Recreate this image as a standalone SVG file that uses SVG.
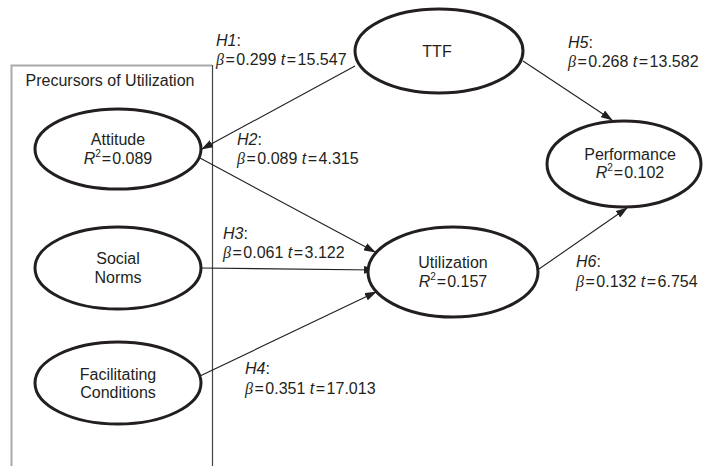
<svg xmlns="http://www.w3.org/2000/svg" width="704" height="466" viewBox="0 0 704 466">
<style>
  text { font-family: "Liberation Sans", Arial, sans-serif; font-size: 16px; fill: #231f20; }
  .c { text-anchor: middle; }
  .i { font-style: italic; }
  .b { font-family: "Liberation Serif", "Times New Roman", serif; font-style: italic; }
  .sup { font-size: 10px; }
  .node ellipse { fill: #fff; stroke: #231f20; stroke-width: 3; }
  .edge { stroke: #231f20; stroke-width: 1.1; fill: none; marker-end: url(#ah); }
</style>
<defs>
  <marker id="ah" markerUnits="userSpaceOnUse" markerWidth="12" markerHeight="8" refX="11" refY="4" orient="auto">
    <path d="M0,0 L12,4 L0,8 z" fill="#231f20"/>
  </marker>
</defs>
<rect width="704" height="466" fill="#fff"/>

<g id="precursors-box">
  <path d="M11.5,466 V65.5 H212" fill="none" stroke="#aaa" stroke-width="2"/>
  <path d="M212.5,65 V466" fill="none" stroke="#444" stroke-width="1.2"/>
  <text class="c" x="110" y="86">Precursors of Utilization</text>
</g>

<g id="connectors">
  <line class="edge" x1="355" y1="66" x2="202" y2="149"/>
  <line class="edge" x1="200" y1="158" x2="375" y2="252"/>
  <line class="edge" x1="201" y1="268" x2="375" y2="270"/>
  <line class="edge" x1="200" y1="376" x2="376" y2="292"/>
  <line class="edge" x1="523" y1="61" x2="612" y2="120"/>
  <line class="edge" x1="539" y1="269" x2="627" y2="208"/>
</g>

<g id="labels">
  <text x="216" y="46"><tspan class="i">H1</tspan>:</text>
  <text x="216" y="65"><tspan class="b">β</tspan><tspan dx="1.5">=</tspan><tspan dx="1.5">0.299 </tspan><tspan class="i">t</tspan><tspan dx="1.5">=</tspan><tspan dx="1.5">15.547</tspan></text>
  <text x="237" y="145"><tspan class="i">H2</tspan>:</text>
  <text x="237" y="164"><tspan class="b">β</tspan><tspan dx="1.5">=</tspan><tspan dx="1.5">0.089 </tspan><tspan class="i">t</tspan><tspan dx="1.5">=</tspan><tspan dx="1.5">4.315</tspan></text>
  <text x="223" y="239"><tspan class="i">H3</tspan>:</text>
  <text x="223" y="258"><tspan class="b">β</tspan><tspan dx="1.5">=</tspan><tspan dx="1.5">0.061 </tspan><tspan class="i">t</tspan><tspan dx="1.5">=</tspan><tspan dx="1.5">3.122</tspan></text>
  <text x="245" y="374"><tspan class="i">H4</tspan>:</text>
  <text x="245" y="394"><tspan class="b">β</tspan><tspan dx="1.5">=</tspan><tspan dx="1.5">0.351 </tspan><tspan class="i">t</tspan><tspan dx="1.5">=</tspan><tspan dx="1.5">17.013</tspan></text>
  <text x="568" y="48"><tspan class="i">H5</tspan>:</text>
  <text x="568" y="67"><tspan class="b">β</tspan><tspan dx="1.5">=</tspan><tspan dx="1.5">0.268 </tspan><tspan class="i">t</tspan><tspan dx="1.5">=</tspan><tspan dx="1.5">13.582</tspan></text>
  <text x="576" y="267"><tspan class="i">H6</tspan>:</text>
  <text x="576" y="287"><tspan class="b">β</tspan><tspan dx="1.5">=</tspan><tspan dx="1.5">0.132 </tspan><tspan class="i">t</tspan><tspan dx="1.5">=</tspan><tspan dx="1.5">6.754</tspan></text>
</g>

<g id="attitude" class="node">
  <ellipse cx="118" cy="149" rx="83" ry="40"/>
  <text class="c" x="118" y="145">Attitude</text>
  <text class="c" x="118" y="164"><tspan class="i">R</tspan><tspan class="sup" dy="-7">2</tspan><tspan dy="7" dx="1">=</tspan><tspan dx="1">0.089</tspan></text>
</g>
<g id="social-norms" class="node">
  <ellipse cx="118" cy="268" rx="83" ry="41"/>
  <text class="c" x="118" y="264">Social</text>
  <text class="c" x="118" y="283">Norms</text>
</g>
<g id="facilitating-conditions" class="node">
  <ellipse cx="118" cy="383" rx="83" ry="41"/>
  <text class="c" x="118" y="380">Facilitating</text>
  <text class="c" x="118" y="398">Conditions</text>
</g>
<g id="ttf" class="node">
  <ellipse cx="439" cy="51" rx="84" ry="42"/>
  <text class="c" x="437" y="57">TTF</text>
</g>
<g id="performance" class="node">
  <ellipse cx="624" cy="164" rx="77" ry="43"/>
  <text class="c" x="630" y="160">Performance</text>
  <text class="c" x="630" y="178"><tspan class="i">R</tspan><tspan class="sup" dy="-7">2</tspan><tspan dy="7" dx="1">=</tspan><tspan dx="1">0.102</tspan></text>
</g>
<g id="utilization" class="node">
  <ellipse cx="453" cy="272" rx="85" ry="45"/>
  <text class="c" x="453" y="268">Utilization</text>
  <text class="c" x="453" y="287"><tspan class="i">R</tspan><tspan class="sup" dy="-7">2</tspan><tspan dy="7" dx="1">=</tspan><tspan dx="1">0.157</tspan></text>
</g>
</svg>
